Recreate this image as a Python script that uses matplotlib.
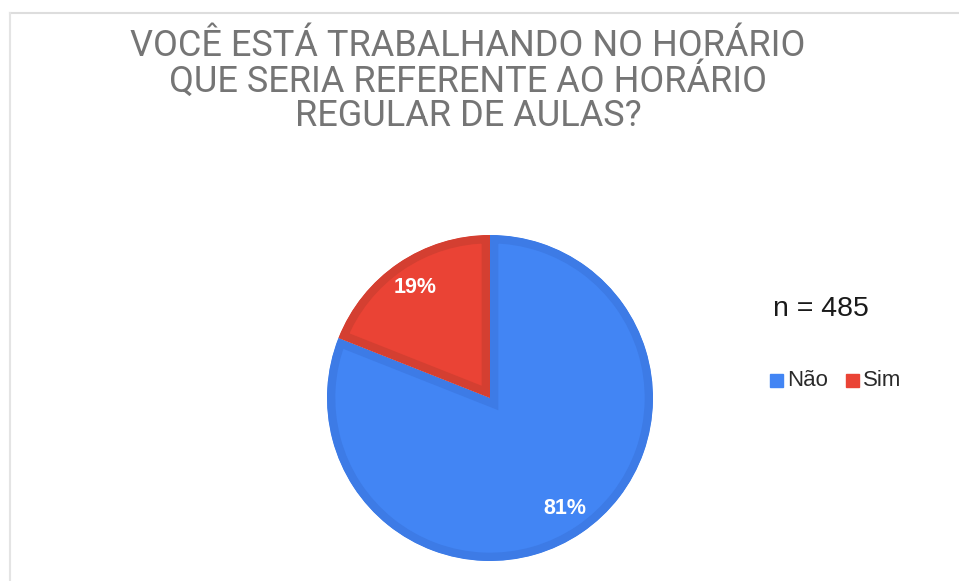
import matplotlib.pyplot as plt
from matplotlib.lines import Line2D
from matplotlib.patches import Rectangle

# Data
labels = ['Não', 'Sim']
values = [81, 19]
colors = ['#4285F4', '#EA4335']
edge_colors = ['#3D7BE6', '#D43F31']
title = 'VOCÊ ESTÁ TRABALHANDO NO HORÁRIO\nQUE SERIA REFERENTE AO HORÁRIO\nREGULAR DE AULAS?'
n_text = 'n = 485'

W, H = 959, 581
fig = plt.figure(figsize=(W / 100, H / 100), dpi=100)
fig.patch.set_facecolor('white')

# thin frame lines at top and left
fig.add_artist(Line2D([10 / W, 1], [1 - 13 / H, 1 - 13 / H], color='#dddddd', lw=1.5))
fig.add_artist(Line2D([10 / W, 10 / W], [0, 1 - 13 / H], color='#e4e4e4', lw=1.5))

# Pie
cx, cy, r = 490, 398, 163
ax = fig.add_axes([(cx - r) / W, (H - cy - r) / H, 2 * r / W, 2 * r / H])
wedges, texts, autotexts = ax.pie(
    values, colors=colors, startangle=90, counterclock=False,
    autopct='%1.0f%%', pctdistance=0.82, radius=1,
    textprops=dict(color='white', fontsize=15.5, fontweight='bold',
                   family='Liberation Sans'))
for w, ec in zip(wedges, edge_colors):
    w.set_edgecolor(ec)
    w.set_linewidth(12)
    w.set_clip_on(True)
    w.set_clip_path(w)
ax.set_xlim(-1, 1)
ax.set_ylim(-1, 1)
ax.set_aspect('equal')
ax.axis('off')

# Title
fig.text(468 / W, 1 - 81 / H, title, ha='center', va='center', fontsize=26,
         color='#757575', family='Roboto', linespacing=0.93)

# n label
fig.text(773 / W, 1 - 309 / H, n_text, ha='left', va='center', fontsize=20.5,
         color='#1a1a1a', family='Liberation Sans')

# Legend
sq_x = [770, 846]
for lab, col, x in zip(labels, colors, sq_x):
    fig.add_artist(Rectangle((x / W, 1 - 387 / H), 13 / W, 13 / H,
                             transform=fig.transFigure, color=col))
    fig.text((x + 17) / W, 1 - 380 / H, lab, ha='left', va='center',
             fontsize=16, color='#2a2a2a', family='Liberation Sans')

fig.savefig('out.png', dpi=100, facecolor='white')
